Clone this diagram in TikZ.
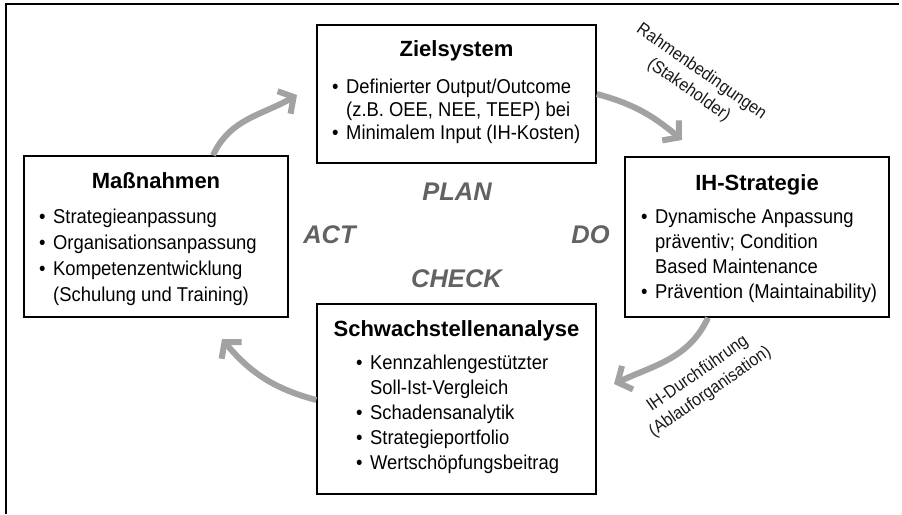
\documentclass[tikz,border=0pt]{standalone}
\usepackage{fontspec}
\setmainfont{Liberation Sans}
\newfontfamily\schmal[FakeStretch=0.92]{Liberation Sans}
\usepackage{xcolor}
\usepackage{tikz}
\usetikzlibrary{arrows.meta,calc,positioning}
\definecolor{pfeilgrau}{HTML}{A2A2A2}
\definecolor{phasengrau}{HTML}{626262}
\newcommand{\pkt}{\makebox[14pt][l]{\textbullet}}
\newcommand{\ein}{\hspace*{14pt}}

\begin{document}
\begin{tikzpicture}[x=1pt,y=1pt,
  box/.style={draw=black,line width=1.5pt,inner sep=0pt},
  titel/.style={font=\fontsize{22}{26}\selectfont\bfseries,anchor=base,inner sep=0pt},
  liste/.style={font=\schmal\fontsize{20}{25}\selectfont,align=left,anchor=north west,inner sep=0pt},
  phase/.style={font=\fontsize{25.5}{30}\selectfont\bfseries\itshape,text=phasengrau,inner sep=0pt},
  notiz/.style={font=\schmal\fontsize{17.5}{22}\selectfont,align=center,inner sep=0pt,text=black!90},
  pfeil/.style={draw=pfeilgrau,line width=6pt,-{Straight Barb[length=11pt,width=26pt]}}]
\useasboundingbox (0,0) rectangle (902,-514);
\draw[line width=1.2pt] (6,-514) -- (6,-4) -- (899,-4);

% PLAN
\node[box,minimum width=279pt,minimum height=138pt] (ziel) at (456.5,-94) {};
\node[titel] (ziel-t) at (456.5,-56) {Zielsystem};
\node[liste,font=\schmal\fontsize{20}{23}\selectfont] (ziel-l) at (332,-79) {\pkt Definierter Output/Outcome\\ \ein (z.B. OEE, NEE, TEEP) bei\\ \pkt Minimalem Input (IH-Kosten)};

% ACT
\node[box,minimum width=264pt,minimum height=161pt] (mass) at (156,-236.5) {};
\node[titel] (mass-t) at (156,-188) {Maßnahmen};
\node[liste,font=\schmal\fontsize{20}{26}\selectfont] (mass-l) at (39,-209) {\pkt Strategieanpassung\\ \pkt Organisationsanpassung\\ \pkt Kompetenzentwicklung\\ \ein (Schulung und Training)};

% DO
\node[box,minimum width=264pt,minimum height=160pt] (ih) at (757,-237) {};
\node[titel] (ih-t) at (757,-190) {IH-Strategie};
\node[liste] (ih-l) at (641,-209) {\pkt Dynamische Anpassung\\ \ein präventiv; Condition\\ \ein Based Maintenance\\ \pkt Prävention (Maintainability)};

% CHECK
\node[box,minimum width=279pt,minimum height=190pt] (schw) at (456.5,-399) {};
\node[titel] (schw-t) at (456.5,-336) {Schwachstellenanalyse};
\node[liste] (schw-l) at (356,-355) {\pkt Kennzahlengestützter\\ \ein Soll-Ist-Vergleich\\ \pkt Schadensanalytik\\ \pkt Strategieportfolio\\ \pkt Wertschöpfungsbeitrag};

\node[phase] (plan) at (457,-191.5) {PLAN};
\node[phase] (act) at (329.5,-235) {ACT};
\node[phase] (do) at (590.5,-235) {DO};
\node[phase] (check) at (456.5,-278.5) {CHECK};

\node[notiz,rotate=-35] (rahmen) at (695,-81) {Rahmenbedingungen\\(Stakeholder)};
\node[notiz,rotate=35] (durchf) at (704,-383) {IH-Durchführung\\(Ablauforganisation)};

% Zyklus
\coordinate (spitze1) at (297,-95);
\coordinate (spitze2) at (682,-140);
\coordinate (spitze3) at (614,-384);
\coordinate (spitze4) at (222,-339);
\draw[pfeil] ([xshift=57pt]mass.north) to[out=65,in=210] (spitze1);
\draw[pfeil] (ziel.east) to[out=-15,in=140] (spitze2);
\draw[pfeil] ([xshift=-49pt]ih.south) to[out=-115,in=25] (spitze3);
\draw[pfeil] ([yshift=-1pt]schw.west) to[out=165,in=-50] (spitze4);
\end{tikzpicture}
\end{document}
